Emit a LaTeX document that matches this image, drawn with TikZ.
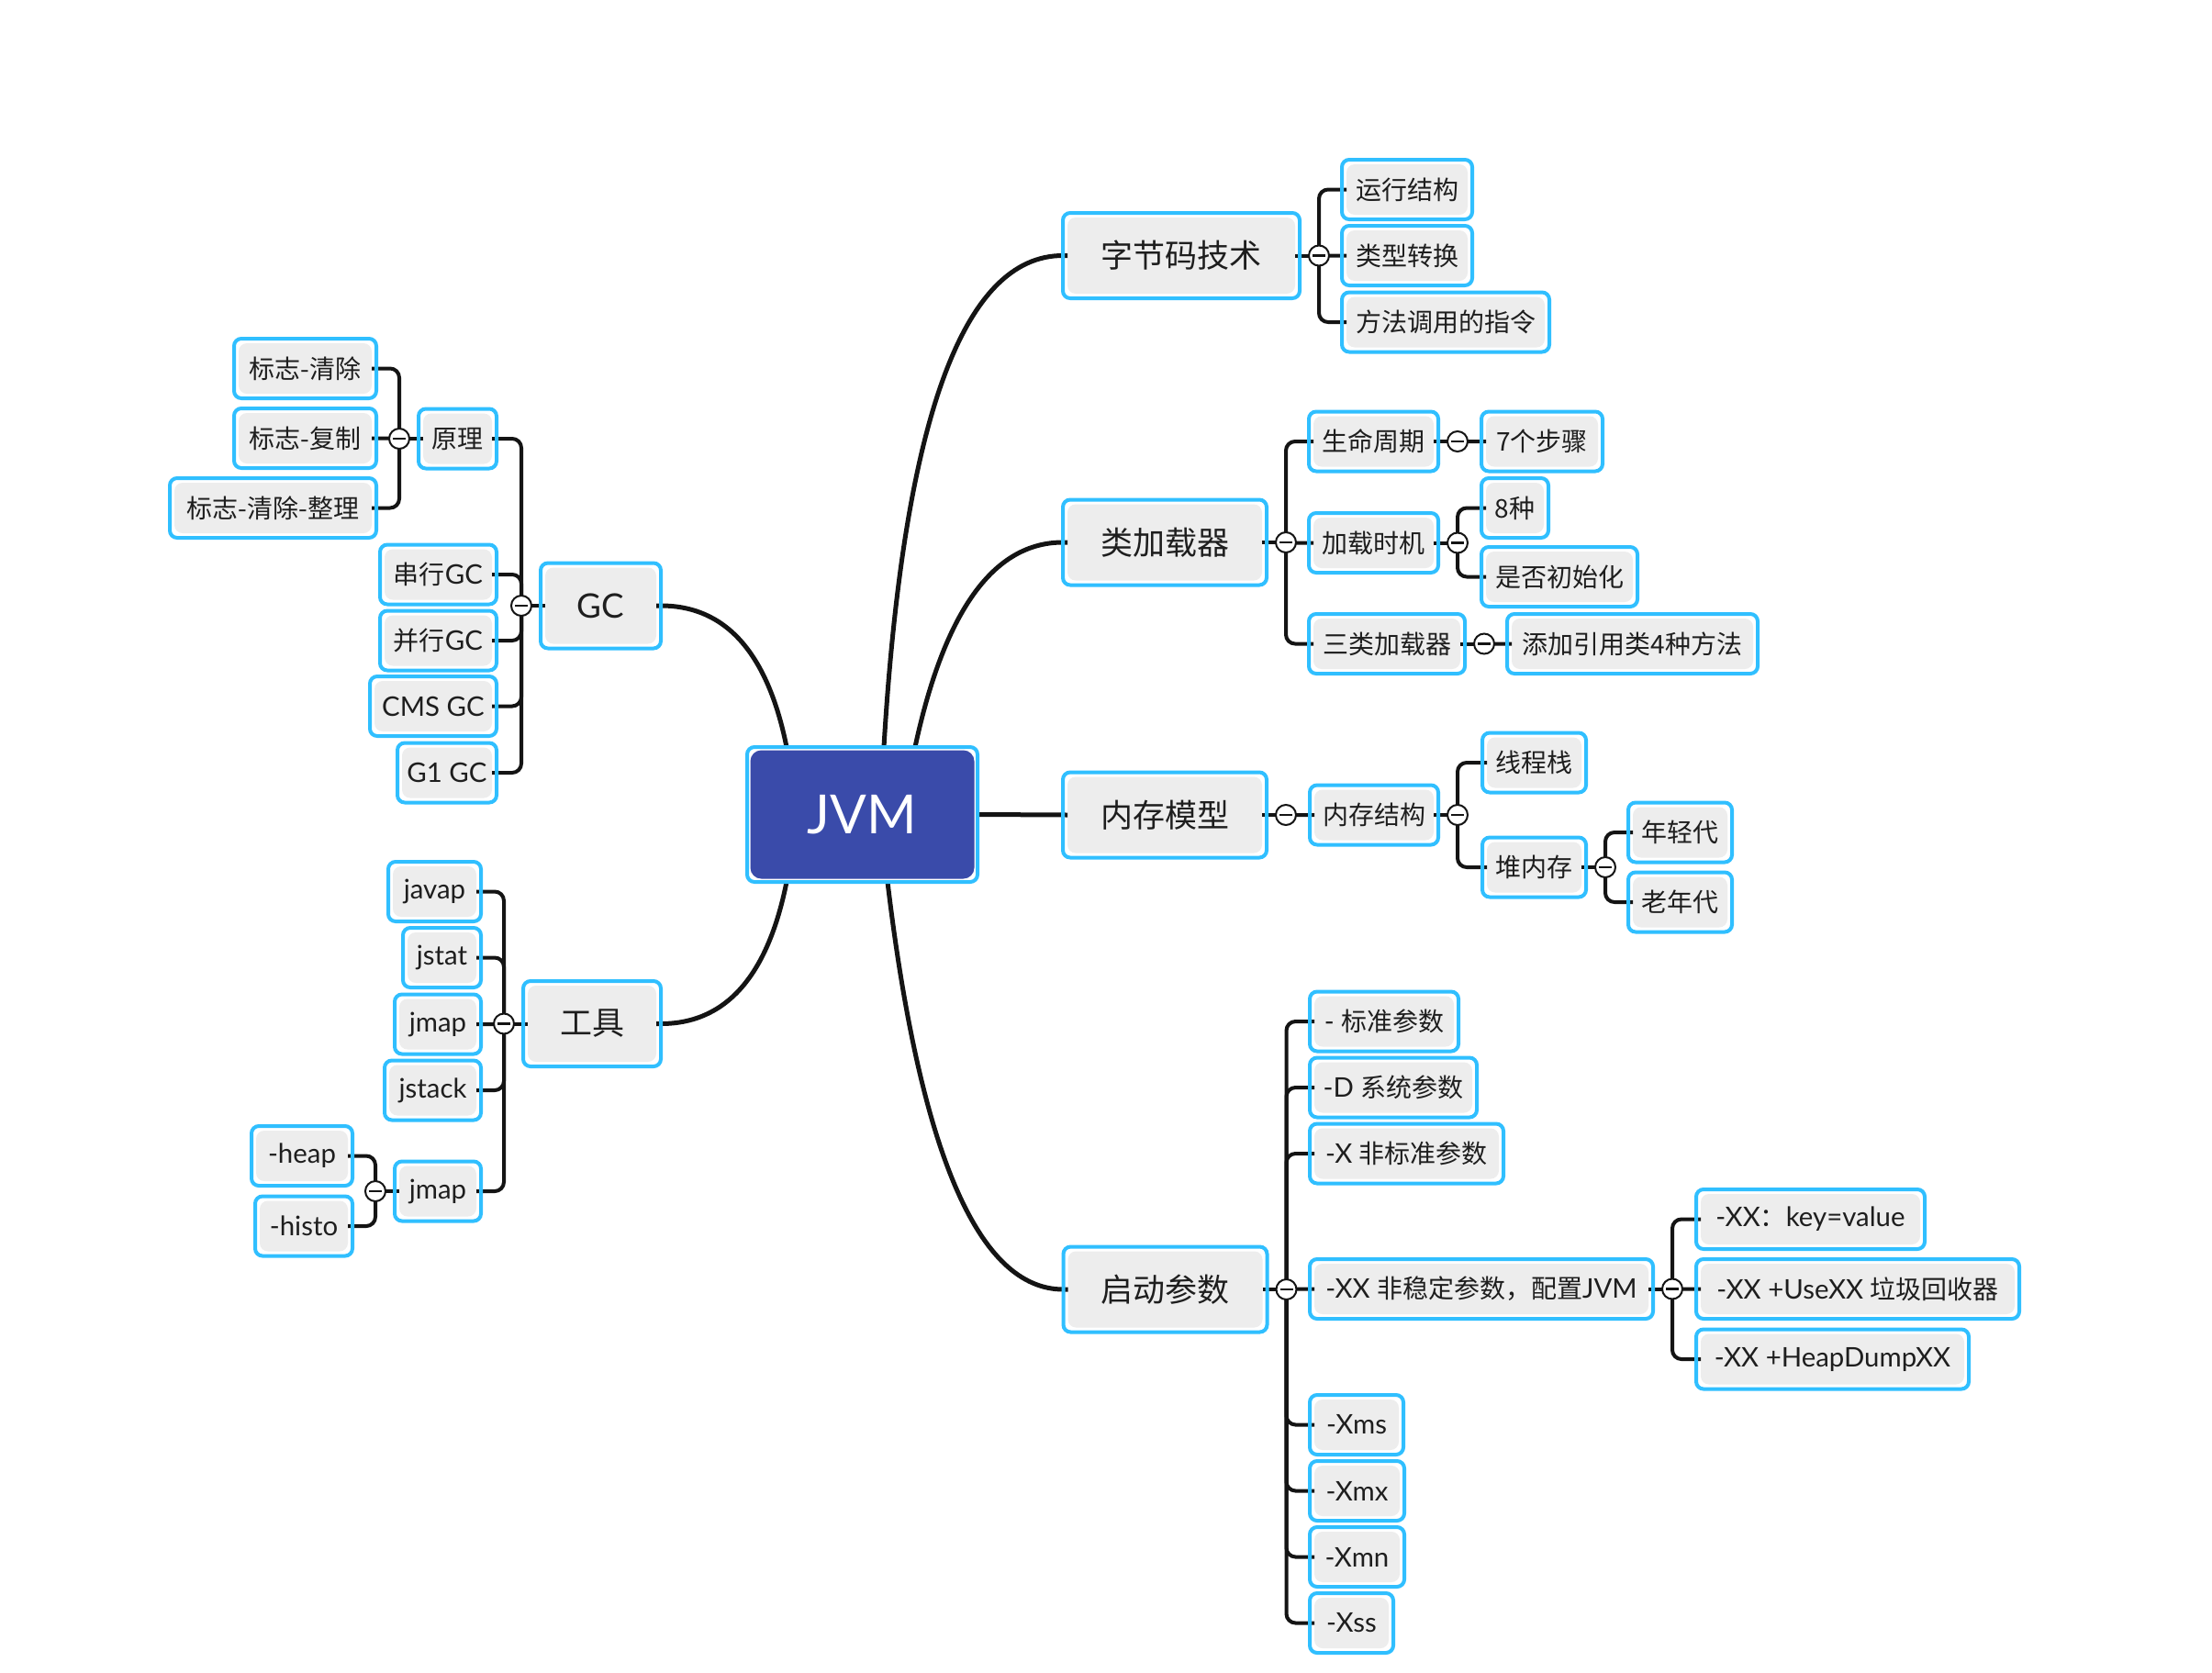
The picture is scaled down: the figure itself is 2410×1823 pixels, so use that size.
\documentclass[tikz,border=0pt]{standalone}
\usepackage{fontspec}
\setmainfont{Lato}[Scale=1.05]
\newfontfamily\cjk{Noto Sans CJK SC}
\newcommand\C[1]{{\cjk #1}}
\usetikzlibrary{calc}
\definecolor{cyanb}{RGB}{48,191,255}
\definecolor{boxfill}{RGB}{237,237,237}
\definecolor{jvmfill}{RGB}{58,75,170}
\definecolor{txt}{RGB}{30,30,30}
\definecolor{linec}{RGB}{20,20,20}
\newcommand\brR[3]{%
  \coordinate (#2) at ([xshift=21pt]#1.east);
  \draw[conn] ([xshift=-5pt]#1.east) -- (#2);
  \foreach \ch in {#3}{\draw[conn,rounded corners=10pt] (#2) |- ([xshift=5pt]\ch.west);}
  \node[collapse] (#2n) at (#2) {};
}
\newcommand\brL[3]{%
  \coordinate (#2) at ([xshift=-21pt]#1.west);
  \draw[conn] ([xshift=5pt]#1.west) -- (#2);
  \foreach \ch in {#3}{\draw[conn,rounded corners=10pt] (#2) |- ([xshift=-5pt]\ch.east);}
  \node[collapse] (#2n) at (#2) {};
}
\begin{document}
\begin{tikzpicture}[x=1pt,y=-1pt,
  box/.style={rectangle, rounded corners=8pt, fill=white, inner sep=0pt, outer sep=0pt,
    text=txt, align=center,
    path picture={\fill[boxfill, rounded corners=9pt]
      ([shift={(5pt,-5pt)}]path picture bounding box.north west) rectangle
      ([shift={(-5pt,5pt)}]path picture bounding box.south east);}},
  Lone/.style={box, minimum height=93pt, font=\fontsize{35}{40}\selectfont},
  Ltwo/.style={box, minimum height=65pt, font=\fontsize{28}{32}\selectfont},
  root/.style={rectangle, rounded corners=8pt, fill=white, inner sep=0pt, outer sep=0pt,
    text=white, minimum width=251pt, minimum height=147pt, font=\fontsize{56}{62}\selectfont,
    path picture={\fill[jvmfill, rounded corners=12pt]
      ([shift={(3.5pt,-3.5pt)}]path picture bounding box.north west) rectangle
      ([shift={(-3.5pt,3.5pt)}]path picture bounding box.south east);}},
  cyanborder/.style={draw=cyanb, line width=4pt, rounded corners=8pt},
  conn/.style={draw=linec, line width=4pt},
  curve/.style={draw=linec, line width=5pt},
  collapse/.style={circle, draw=linec, line width=2pt, fill=white, minimum size=22pt, inner sep=0pt,
    path picture={\draw[line width=2.5pt, linec]
      ([xshift=-7pt]path picture bounding box.center) -- ([xshift=7pt]path picture bounding box.center);}}
]
\useasboundingbox[fill=white] (0,0) rectangle (2410,1823);

% root
\node[root] (JVM) at (939.5,887.5) {JVM};

% level 1
\node[Lone, minimum width=258pt] (zjm) at (1287,278.5) {\C{字节码技术}};
\node[Lone, minimum width=222pt] (jzq) at (1269,591) {\C{类加载器}};
\node[Lone, minimum width=222pt] (ncmx) at (1269,888) {\C{内存模型}};
\node[Lone, minimum width=222pt] (qdcs) at (1269.5,1405) {\C{启动参数}};
\node[Lone, minimum width=131pt] (gc) at (654.5,660) {GC};
\node[Lone, minimum width=150pt] (gj) at (645,1115.5) {\C{工具}};

% right level 2+
\node[Ltwo, minimum width=142pt] (yxjg) at (1533,206.5) {\C{运行结构}};
\node[Ltwo, minimum width=142pt] (lxzh) at (1533,278.5) {\C{类型转换}};
\node[Ltwo, minimum width=226pt] (ffdy) at (1575,351) {\C{方法调用的指令}};

\node[Ltwo, minimum width=141pt] (smzq) at (1496.5,481) {\C{生命周期}};
\node[Ltwo, minimum width=132pt] (qgbz) at (1680,481) {\C{7个步骤}};
\node[Ltwo, minimum width=141pt] (jzsj) at (1496.5,591.5) {\C{加载时机}};
\node[Ltwo, minimum width=73pt] (bz) at (1650.5,553.5) {\C{8种}};
\node[Ltwo, minimum width=170pt] (sfcsh) at (1699,628.5) {\C{是否初始化}};
\node[Ltwo, minimum width=170pt] (sljzq) at (1511,701.5) {\C{三类加载器}};
\node[Ltwo, minimum width=273pt] (tjyy) at (1778.5,701.5) {\C{添加引用类4种方法}};

\node[Ltwo, minimum width=140pt] (ncjg) at (1497,888) {\C{内存结构}};
\node[Ltwo, minimum width=113pt] (xcz) at (1671.5,831) {\C{线程栈}};
\node[Ltwo, minimum width=113pt] (dnc) at (1671.5,945) {\C{堆内存}};
\node[Ltwo, minimum width=113pt] (nqd) at (1830.5,907) {\C{年轻代}};
\node[Ltwo, minimum width=113pt] (lnd) at (1830.5,983) {\C{老年代}};

\node[Ltwo, minimum width=162pt] (bzcs) at (1508,1113) {- \C{标准参数}};
\node[Ltwo, minimum width=182pt] (dxt) at (1518,1185) {-D \C{系统参数}};
\node[Ltwo, minimum width=211pt] (xfbz) at (1532.5,1257) {-X \C{非标准参数}};
\node[Ltwo, minimum width=374pt] (xxfw) at (1614,1404.5) {-XX \C{非稳定参数，配置}JVM};
\node[Ltwo, minimum width=249pt] (xxkv) at (1972.5,1328.5) {-XX\C{：}key=value};
\node[Ltwo, minimum width=352pt] (xxuse) at (2024,1404.5) {-XX +UseXX \C{垃圾回收器}};
\node[Ltwo, minimum width=297pt] (xxheap) at (1996.5,1481) {-XX +HeapDumpXX};
\node[Ltwo, minimum width=102pt] (xms) at (1478,1552.5) {-Xms};
\node[Ltwo, minimum width=103pt] (xmx) at (1478.5,1624.5) {-Xmx};
\node[Ltwo, minimum width=103pt] (xmn) at (1478.5,1696.5) {-Xmn};
\node[Ltwo, minimum width=91pt] (xss) at (1472.5,1768.5) {-Xss};

% left level 2+
\node[Ltwo, minimum width=85pt] (yl) at (498.5,478) {\C{原理}};
\node[Ltwo, minimum width=155pt] (bzqc) at (332.5,401.5) {\C{标志-清除}};
\node[Ltwo, minimum width=155pt] (bzfz) at (332.5,477.5) {\C{标志-复制}};
\node[Ltwo, minimum width=225pt] (bzqczl) at (297.5,553.5) {\C{标志-清除-整理}};
\node[Ltwo, minimum width=127pt] (cxgc) at (477.5,626) {\C{串行}GC};
\node[Ltwo, minimum width=127pt] (bxgc) at (477.5,698) {\C{并行}GC};
\node[Ltwo, minimum width=138pt] (cms) at (472,769.5) {CMS GC};
\node[Ltwo, minimum width=108pt] (gone) at (487,842) {G1 GC};

\node[Ltwo, minimum width=101pt] (javap) at (473.5,971.5) {javap};
\node[Ltwo, minimum width=85pt] (jstat) at (481.5,1043.5) {jstat};
\node[Ltwo, minimum width=94pt] (jmap) at (477,1116) {jmap};
\node[Ltwo, minimum width=105pt] (jstack) at (471.5,1188) {jstack};
\node[Ltwo, minimum width=94pt] (jmapb) at (477,1298) {jmap};
\node[Ltwo, minimum width=110pt] (heap) at (329,1259.5) {-heap};
\node[Ltwo, minimum width=106pt] (histo) at (331,1336) {-histo};

% main curves
\coordinate (s1) at ([xshift=149pt]JVM.north west);
\coordinate (c1) at ($(s1 |- zjm.west)+(32pt,0)$);
\draw[curve] (s1) .. controls ($(s1)!2/3!(c1)$) and ($(zjm.west)!2/3!(c1)$) .. (zjm.west) -- ([xshift=5pt]zjm.west);
\coordinate (s2) at ([xshift=183pt]JVM.north west);
\coordinate (c2) at ($(s2 |- jzq.west)+(48pt,0)$);
\draw[curve] (s2) .. controls ($(s2)!2/3!(c2)$) and ($(jzq.west)!2/3!(c2)$) .. (jzq.west) -- ([xshift=5pt]jzq.west);
\draw[curve] (JVM.east) -- ([xshift=5pt]ncmx.west);
\coordinate (s4) at ([xshift=153pt]JVM.south west);
\coordinate (c4) at ($(s4 |- qdcs.west)+(53pt,0)$);
\draw[curve] (s4) .. controls ($(s4)!2/3!(c4)$) and ($(qdcs.west)!2/3!(c4)$) .. (qdcs.west) -- ([xshift=5pt]qdcs.west);
\coordinate (s5) at ([xshift=43pt]JVM.north west);
\coordinate (c5) at ($(s5 |- gc.east)+(-31pt,0)$);
\draw[curve] (s5) .. controls ($(s5)!2/3!(c5)$) and ($(gc.east)!2/3!(c5)$) .. (gc.east) -- ([xshift=-5pt]gc.east);
\coordinate (s6) at ([xshift=43pt]JVM.south west);
\coordinate (c6) at ($(s6 |- gj.east)+(-31pt,0)$);
\draw[curve] (s6) .. controls ($(s6)!2/3!(c6)$) and ($(gj.east)!2/3!(c6)$) .. (gj.east) -- ([xshift=-5pt]gj.east);

% branches
\brR{zjm}{kzjm}{yxjg,lxzh,ffdy}
\brR{jzq}{kjzq}{smzq,jzsj,sljzq}
\brR{smzq}{ksmzq}{qgbz}
\brR{jzsj}{kjzsj}{bz,sfcsh}
\brR{sljzq}{ksljzq}{tjyy}
\brR{ncmx}{kncmx}{ncjg}
\brR{ncjg}{kncjg}{xcz,dnc}
\brR{dnc}{kdnc}{nqd,lnd}
\brR{qdcs}{kqdcs}{bzcs,dxt,xfbz,xxfw,xms,xmx,xmn,xss}
\brR{xxfw}{kxxfw}{xxkv,xxuse,xxheap}
\brL{gc}{kgc}{yl,cxgc,bxgc,cms,gone}
\brL{yl}{kyl}{bzqc,bzfz,bzqczl}
\brL{gj}{kgj}{javap,jstat,jmap,jstack,jmapb}
\brL{jmapb}{kjmapb}{heap,histo}

% cyan borders
\foreach \n in {JVM,zjm,jzq,ncmx,qdcs,gc,gj,yxjg,lxzh,ffdy,smzq,qgbz,jzsj,bz,sfcsh,sljzq,tjyy,
  ncjg,xcz,dnc,nqd,lnd,bzcs,dxt,xfbz,xxfw,xxkv,xxuse,xxheap,xms,xmx,xmn,xss,
  yl,bzqc,bzfz,bzqczl,cxgc,bxgc,cms,gone,javap,jstat,jmap,jstack,jmapb,heap,histo}
  {\draw[cyanborder] (\n.south west) rectangle (\n.north east);}
\end{tikzpicture}
\end{document}
